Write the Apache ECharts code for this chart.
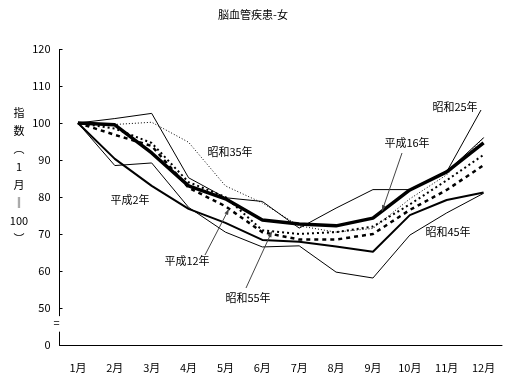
<!DOCTYPE html>
<html><head><meta charset="utf-8">
<script src="https://cdn.jsdelivr.net/npm/echarts/dist/echarts.min.js"></script>
<style>html,body{margin:0;padding:0;background:#fff}#c{width:506px;height:379px}</style>
</head><body><div id="c"></div>
<script>
// ---- data ----
const months = ['1月','2月','3月','4月','5月','6月','7月','8月','9月','10月','11月','12月'];
const yMin = 40, yMax = 120, yStep = 10;   // 40 is shown as "0" (axis break)
const breakLabel = '0';
const s25 = [100, 101.2, 102.6, 85.2, 79.8, 78.8, 71.6, 77.0, 82.0, 82.0, 86.8, 96.0];
const s35 = [100, 99.6, 100.2, 94.8, 83.0, 78.4, 72.2, 70.5, 71.5, 79.5, 86.0, 96.0];
const s45 = [100, 88.5, 89.2, 77.2, 70.5, 66.5, 66.8, 59.7, 58.1, 69.7, 75.7, 81.0];
const s55 = [100, 98.5, 94.6, 84.0, 80.0, 71.0, 70.0, 70.5, 72.0, 78.0, 84.5, 91.4];
const h02 = [100, 90.3, 83.0, 76.8, 73.0, 68.4, 67.9, 66.6, 65.2, 75.1, 79.2, 81.2];
const h12 = [100, 96.8, 93.8, 82.5, 77.5, 70.5, 68.5, 68.5, 70.0, 76.5, 81.9, 88.6];
const h16 = [100, 99.5, 91.9, 83.0, 79.5, 73.8, 72.7, 72.2, 74.3, 81.9, 86.8, 94.6];
const titleText = '脳血管疾患-女';
const yName = '指\n数\n︵\n1\n月\n‖\n100\n︶';

const FONT = '"Noto Sans CJK JP", "Noto Sans", sans-serif';
const chart = echarts.init(document.getElementById('c'), null, {renderer: 'canvas'});

function ser(name, data, width, type, z) {
  return {name, type: 'line', data, symbol: 'none', z,
    lineStyle: {color: '#000', width, type}, emphasis: {disabled: true}};
}

chart.setOption({
  animation: false,
  backgroundColor: '#fff',
  title: {text: titleText, left: 'center', top: 4,
    textStyle: {fontSize: 11, fontWeight: 'normal', color: '#000', fontFamily: FONT}},
  grid: {left: 59.5, right: 4, top: 49, bottom: 34},
  xAxis: {type: 'category', data: months, boundaryGap: true,
    axisLine: {lineStyle: {color: '#000', width: 1}},
    axisTick: {inside: true, length: 3, lineStyle: {color: '#000'}},
    axisLabel: {color: '#000', fontSize: 11, margin: 17, fontFamily: FONT}},
  yAxis: {type: 'value', min: yMin, max: yMax, interval: yStep,
    axisLine: {show: false},
    axisTick: {show: true, inside: true, length: 3, lineStyle: {color: '#000'}},
    splitLine: {show: false},
    axisLabel: {formatter: v => v === yMin ? breakLabel : String(v), color: '#000',
      fontSize: 11, margin: 9, fontFamily: FONT}},
  series: [
    ser('昭和25年', s25, 1, 'solid', 2),
    ser('昭和35年', s35, 1, [1, 2], 2),
    ser('昭和45年', s45, 1, 'solid', 2),
    ser('昭和55年', s55, 2, [2, 3], 3),
    ser('平成2年', h02, 2, 'solid', 3),
    ser('平成12年', h12, 2.5, [4, 4], 4),
    ser('平成16年', h16, 3.5, 'solid', 5)
  ]
});

// ---- decorations derived from the axes ----
const xp = i => chart.convertToPixel({xAxisIndex: 0}, i);
const yp = v => chart.convertToPixel({yAxisIndex: 0}, v);
const band = xp(1) - xp(0);
const axisX = xp(0) - band / 2;
function at(arr, fi) {
  const i = Math.min(Math.floor(fi), arr.length - 2), t = fi - i;
  return [xp(i) + t * band, yp(arr[i] + (arr[i + 1] - arr[i]) * t)];
}
function leader(from, tip, color, arrow) {
  const els = [{type: 'line', shape: {x1: from[0], y1: from[1], x2: tip[0], y2: tip[1]},
    style: {stroke: color, lineWidth: 1}, z: 10}];
  if (arrow) {
    const a = Math.atan2(tip[1] - from[1], tip[0] - from[0]), L = 6, W = 2;
    const bx = tip[0] - L * Math.cos(a), by = tip[1] - L * Math.sin(a);
    els.push({type: 'polygon', shape: {points: [tip,
      [bx + W * Math.sin(a), by - W * Math.cos(a)], [bx - W * Math.sin(a), by + W * Math.cos(a)]]},
      style: {fill: color}, z: 10});
  }
  return els;
}
function label(text, x, y) {
  return {type: 'text', x, y, style: {text, fill: '#000', font: '11px ' + FONT,
    textAlign: 'center', textVerticalAlign: 'middle'}, z: 11};
}
const fiOf = px => (px - xp(0)) / band;
const graphic = [
  {type: 'line', shape: {x1: axisX, y1: yp(yMax), x2: axisX, y2: yp(47.8)}, style: {stroke: '#000', lineWidth: 1}},
  {type: 'line', shape: {x1: axisX, y1: yp(43.6), x2: axisX, y2: yp(yMin)}, style: {stroke: '#000', lineWidth: 1}},
  {type: 'text', x: axisX - 3, y: yp(45.9), style: {text: '=', fill: '#000', font: '11px ' + FONT,
    textAlign: 'center', textVerticalAlign: 'middle'}},
  {type: 'text', x: 19, y: 104, style: {text: yName, fill: '#000', font: '11px ' + FONT,
    textAlign: 'center', lineHeight: 18}},
  label('昭和35年', 230, 152),
  label('平成2年', 130, 200),
  label('平成12年', 187, 261),
  label('昭和55年', 248, 298),
  label('平成16年', 407, 143),
  label('昭和25年', 455, 107),
  label('昭和45年', 448, 232),
  ...leader([402, 153], at(h16, fiOf(382)), '#444', true),
  ...leader([205, 255], at(h12, fiOf(229)), '#444', true),
  ...leader([246, 288], at(s55, fiOf(272)), '#444', true),
  ...leader([481, 110], at(s25, 10), '#000', false)
];
chart.setOption({graphic});
</script>
</body></html>
